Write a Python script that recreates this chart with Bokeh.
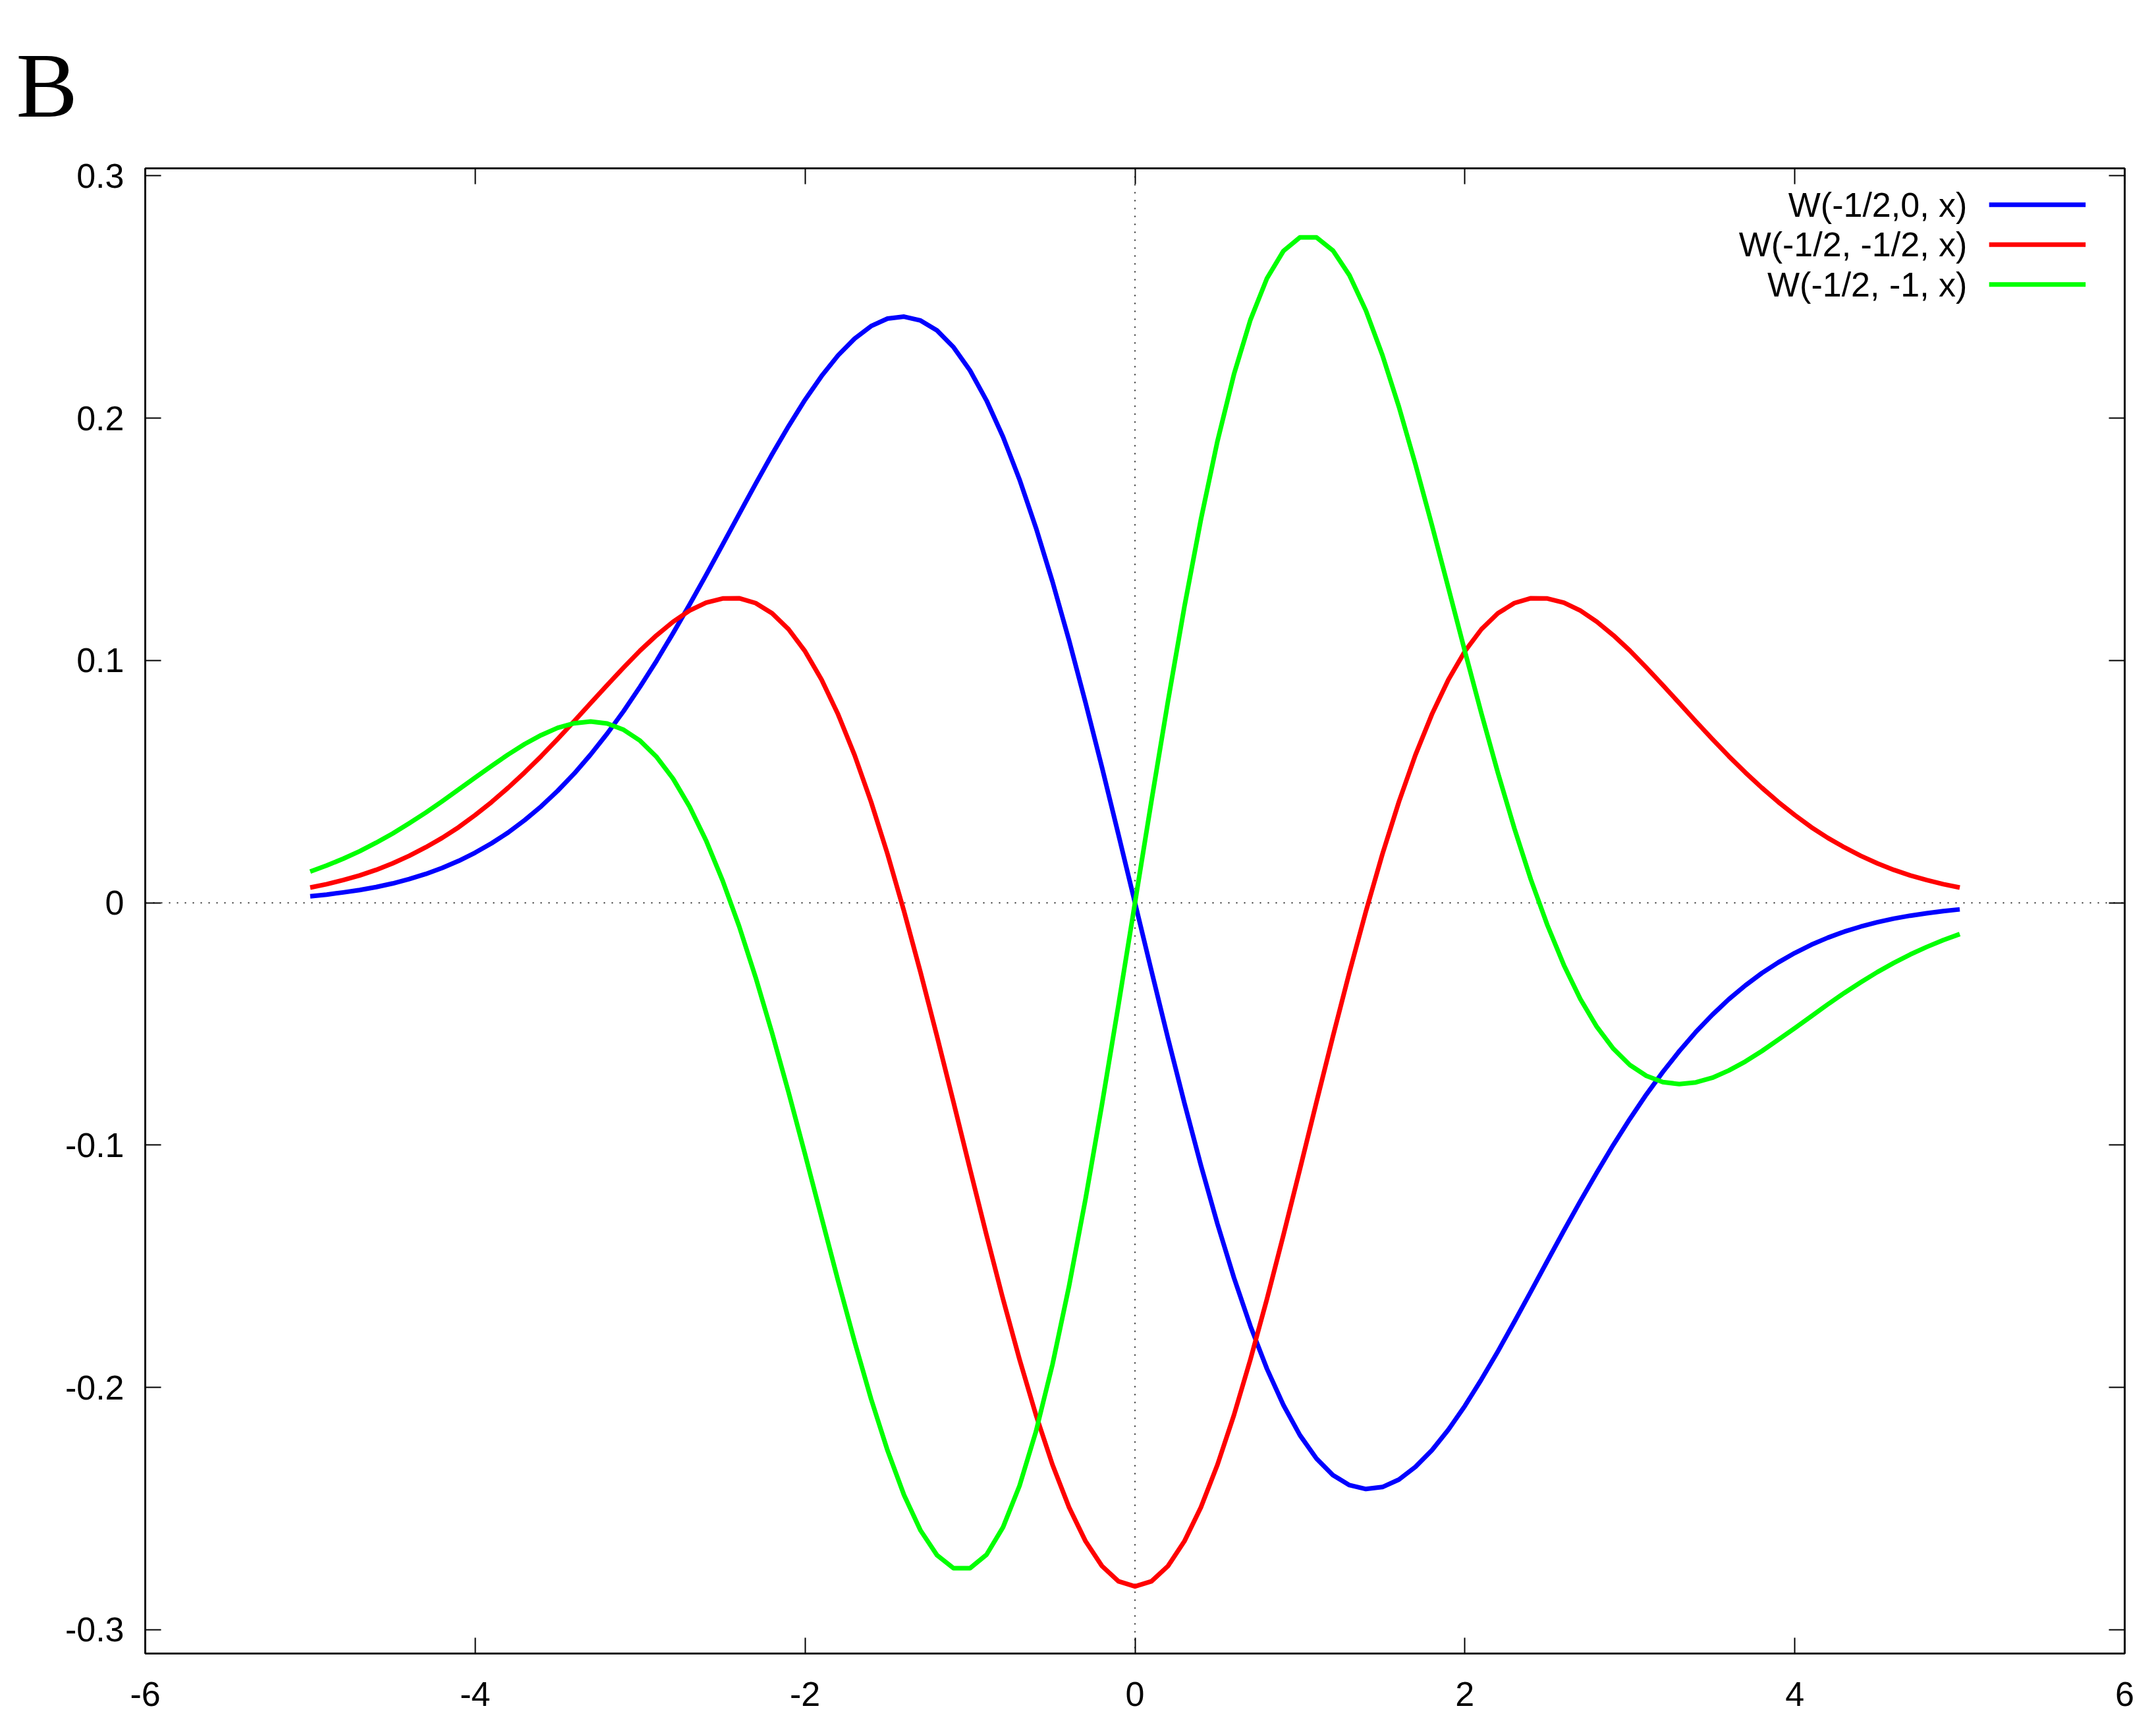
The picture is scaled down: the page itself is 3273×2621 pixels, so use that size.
from bokeh.plotting import figure
from bokeh.models import Range1d, LinearAxis, FixedTicker, CustomJSTickFormatter, Span, Label
from bokeh.embed import file_html
from bokeh.resources import INLINE

# ---------------- data ----------------
X = [-5.0, -4.9, -4.8, -4.7, -4.6, -4.5, -4.4, -4.3, -4.2, -4.1,
     -4.0, -3.9, -3.8, -3.7, -3.6, -3.5, -3.4, -3.3, -3.2, -3.1,
     -3.0, -2.9, -2.8, -2.7, -2.6, -2.5, -2.4, -2.3, -2.2, -2.1,
     -2.0, -1.9, -1.8, -1.7, -1.6, -1.5, -1.4, -1.3, -1.2, -1.1,
     -1.0, -0.9, -0.8, -0.7, -0.6, -0.5, -0.4, -0.3, -0.2, -0.1,
     0.0,
     0.1, 0.2, 0.3, 0.4, 0.5, 0.6, 0.7, 0.8, 0.9, 1.0,
     1.1, 1.2, 1.3, 1.4, 1.5, 1.6, 1.7, 1.8, 1.9, 2.0,
     2.1, 2.2, 2.3, 2.4, 2.5, 2.6, 2.7, 2.8, 2.9, 3.0,
     3.1, 3.2, 3.3, 3.4, 3.5, 3.6, 3.7, 3.8, 3.9, 4.0,
     4.1, 4.2, 4.3, 4.4, 4.5, 4.6, 4.7, 4.8, 4.9, 5.0]

W_0 = [0.0027, 0.0034, 0.0043, 0.0053, 0.0065, 0.0080, 0.0098, 0.0119, 0.0144, 0.0173,
       0.0207, 0.0246, 0.0290, 0.0341, 0.0398, 0.0462, 0.0533, 0.0612, 0.0698, 0.0791,
       0.0892, 0.0999, 0.1113, 0.1231, 0.1353, 0.1478, 0.1604, 0.1729, 0.1851, 0.1967,
       0.2076, 0.2174, 0.2259, 0.2328, 0.2380, 0.2411, 0.2419, 0.2403, 0.2362, 0.2293,
       0.2197, 0.2073, 0.1923, 0.1747, 0.1547, 0.1325, 0.1084, 0.0827, 0.0559, 0.0281,
       0.0,
       -0.0281, -0.0559, -0.0827, -0.1084, -0.1325, -0.1547, -0.1747, -0.1923, -0.2073, -0.2197,
       -0.2293, -0.2362, -0.2403, -0.2419, -0.2411, -0.2380, -0.2328, -0.2259, -0.2174, -0.2076,
       -0.1967, -0.1851, -0.1729, -0.1604, -0.1478, -0.1353, -0.1231, -0.1113, -0.0999, -0.0892,
       -0.0791, -0.0698, -0.0612, -0.0533, -0.0462, -0.0398, -0.0341, -0.0290, -0.0246, -0.0207,
       -0.0173, -0.0144, -0.0119, -0.0098, -0.0080, -0.0065, -0.0053, -0.0043, -0.0034, -0.0027]

W_HALF = [0.0063, 0.0077, 0.0094, 0.0113, 0.0136, 0.0163, 0.0194, 0.0229, 0.0268, 0.0312,
          0.0362, 0.0416, 0.0475, 0.0538, 0.0605, 0.0676, 0.0749, 0.0824, 0.0898, 0.0971,
          0.1041, 0.1104, 0.1160, 0.1206, 0.1239, 0.1256, 0.1257, 0.1237, 0.1195, 0.1129,
          0.1038, 0.0921, 0.0778, 0.0610, 0.0417, 0.0201, -0.0035, -0.0287, -0.0551, -0.0823,
          -0.1099, -0.1371, -0.1635, -0.1884, -0.2114, -0.2319, -0.2494, -0.2634, -0.2737, -0.2800,
          -0.2821,
          -0.2800, -0.2737, -0.2634, -0.2494, -0.2319, -0.2114, -0.1884, -0.1635, -0.1371, -0.1099,
          -0.0823, -0.0551, -0.0287, -0.0035, 0.0201, 0.0417, 0.0610, 0.0778, 0.0921, 0.1038,
          0.1129, 0.1195, 0.1237, 0.1257, 0.1256, 0.1239, 0.1206, 0.1160, 0.1104, 0.1041,
          0.0971, 0.0898, 0.0824, 0.0749, 0.0676, 0.0605, 0.0538, 0.0475, 0.0416, 0.0362,
          0.0312, 0.0268, 0.0229, 0.0194, 0.0163, 0.0136, 0.0113, 0.0094, 0.0077, 0.0063]

W_ONE = [0.0129, 0.0154, 0.0182, 0.0213, 0.0248, 0.0286, 0.0328, 0.0372, 0.0419, 0.0468,
         0.0517, 0.0565, 0.0612, 0.0655, 0.0692, 0.0722, 0.0741, 0.0748, 0.0740, 0.0714,
         0.0669, 0.0602, 0.0512, 0.0397, 0.0257, 0.0092, -0.0096, -0.0307, -0.0537, -0.0782,
         -0.1038, -0.1299, -0.1559, -0.1810, -0.2047, -0.2260, -0.2444, -0.2590, -0.2692, -0.2746,
         -0.2746, -0.2690, -0.2577, -0.2406, -0.2181, -0.1905, -0.1583, -0.1223, -0.0832, -0.0421,
         0.0,
         0.0421, 0.0832, 0.1223, 0.1583, 0.1905, 0.2181, 0.2406, 0.2577, 0.2690, 0.2746,
         0.2746, 0.2692, 0.2590, 0.2444, 0.2260, 0.2047, 0.1810, 0.1559, 0.1299, 0.1038,
         0.0782, 0.0537, 0.0307, 0.0096, -0.0092, -0.0257, -0.0397, -0.0512, -0.0602, -0.0669,
         -0.0714, -0.0740, -0.0748, -0.0741, -0.0722, -0.0692, -0.0655, -0.0612, -0.0565, -0.0517,
         -0.0468, -0.0419, -0.0372, -0.0328, -0.0286, -0.0248, -0.0213, -0.0182, -0.0154, -0.0129]

SERIES_NAMES = ["W(-1/2,0, x)", "W(-1/2, -1/2, x)", "W(-1/2, -1, x)"]
SERIES_COLORS = ["#0000ff", "#ff0000", "#00ff00"]

X_TICKS = [-6, -4, -2, 0, 2, 4, 6]
X_TICK_LABELS = ["-6", "-4", "-2", "0", "2", "4", "6"]
Y_TICKS = [-0.3, -0.2, -0.1, 0, 0.1, 0.2, 0.3]
Y_TICK_LABELS = ["-0.3", "-0.2", "-0.1", "0", "0.1", "0.2", "0.3"]
PANEL_LABEL = "B"

# ---------------- styling ----------------
FONT = "Liberation Sans"
FONT_SIZE = "52px"
TICK_IN = 24
LINE_W = 7
BORDER_L, BORDER_R, BORDER_T, BORDER_B = 220, 32, 255, 96
FIG_W, FIG_H = 3257, 2605

p = figure(width=FIG_W, height=FIG_H, output_backend="svg", toolbar_location=None,
           x_range=Range1d(-6, 6), y_range=Range1d(-0.3098, 0.3031),
           min_border_left=BORDER_L, min_border_right=BORDER_R,
           min_border_top=BORDER_T, min_border_bottom=BORDER_B)
p.background_fill_color = "white"
p.border_fill_color = "white"
p.outline_line_color = "black"
p.outline_line_width = 2.5
p.xgrid.visible = False
p.ygrid.visible = False

# panel letter as the plot title (placed as high as the top border allows)
p.title.text = PANEL_LABEL
p.title.text_font = "Liberation Serif"
p.title.text_font_size = "140px"
p.title.text_font_style = "normal"
p.title.text_color = "black"
p.title.align = "left"
p.title.offset = -196
p.title.standoff = 98


def style_axis(ax, ticks, labels, show_labels, standoff):
    ax.ticker = FixedTicker(ticks=ticks)
    if show_labels:
        ax.major_label_overrides = {t: l for t, l in zip(ticks, labels)}
    else:
        ax.formatter = CustomJSTickFormatter(code="return ''")
    ax.major_label_text_font = FONT
    ax.major_label_text_font_size = FONT_SIZE
    ax.major_label_text_color = "black"
    ax.major_label_standoff = standoff
    ax.major_tick_in = TICK_IN
    ax.major_tick_out = 0
    ax.major_tick_line_color = "black"
    ax.major_tick_line_width = 2
    ax.minor_tick_line_color = None
    ax.axis_line_color = "black"
    ax.axis_line_width = 2.5


style_axis(p.xaxis[0], X_TICKS, X_TICK_LABELS, True, 43)
style_axis(p.yaxis[0], Y_TICKS, Y_TICK_LABELS, True, 32)

ax_top = LinearAxis()
style_axis(ax_top, X_TICKS, X_TICK_LABELS, False, 0)
p.add_layout(ax_top, "above")
ax_right = LinearAxis()
style_axis(ax_right, Y_TICKS, Y_TICK_LABELS, False, 0)
p.add_layout(ax_right, "right")

# dotted zero axes
for dim in ("width", "height"):
    p.add_layout(Span(location=0, dimension=dim, line_color="#333333",
                      line_width=2, line_dash="2 10", level="underlay"))

# curves
for ys, col in zip([W_0, W_HALF, W_ONE], SERIES_COLORS):
    p.line(X, ys, line_color=col, line_width=LINE_W, line_join="round")

# gnuplot-style key (text on the left, sample line on the right)
KEY_TEXT_X = 5.045
KEY_LINE_X0 = 5.178
KEY_LINE_X1 = 5.763
KEY_ROWS_Y = [0.2881, 0.2716, 0.2552]
for name, col, ky in zip(SERIES_NAMES, SERIES_COLORS, KEY_ROWS_Y):
    p.add_layout(Label(x=KEY_TEXT_X, y=ky, text=name, text_align="right",
                       text_baseline="middle", text_font=FONT,
                       text_font_size=FONT_SIZE, text_color="black"))
    p.line([KEY_LINE_X0, KEY_LINE_X1], [ky, ky], line_color=col, line_width=LINE_W)

open("out.html", "w").write(file_html(p, INLINE))
